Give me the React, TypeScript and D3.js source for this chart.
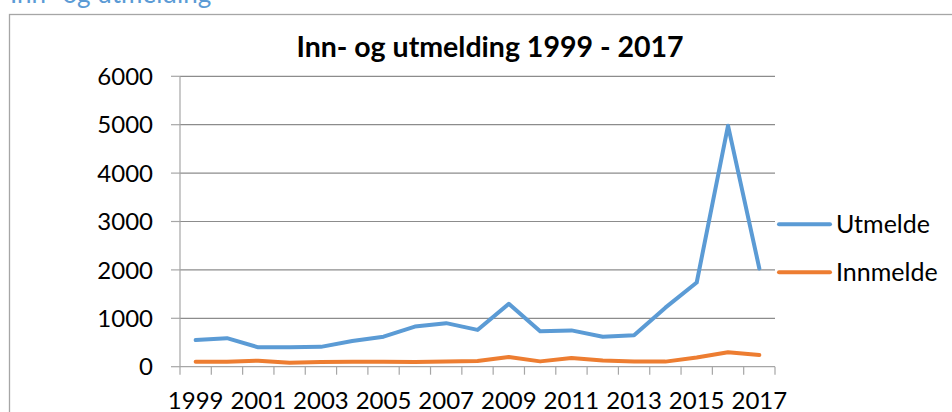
import React from "react";
import * as d3 from "d3";

const years = [1999, 2000, 2001, 2002, 2003, 2004, 2005, 2006, 2007, 2008, 2009, 2010, 2011, 2012, 2013, 2014, 2015, 2016, 2017];
const utmelde = [550, 590, 400, 400, 410, 530, 620, 830, 900, 760, 1300, 730, 750, 620, 650, 1220, 1740, 4980, 2030];
const innmelde = [100, 100, 125, 80, 95, 100, 100, 95, 105, 120, 200, 110, 180, 130, 105, 105, 190, 300, 240];
const yTicks = [0, 1000, 2000, 3000, 4000, 5000, 6000];
const seriesNames = ["Utmelde", "Innmelde"];
const seriesColors = ["#5B9BD5", "#ED7D31"];

const W = 952;
const H = 412;
const FONT = "Lato, 'Open Sans', sans-serif";

export default function App() {
  const left = 180, right = 775, top = 76.3, bottom = 366.7;
  const x = d3.scaleBand<number>().domain(years).range([left, right]).padding(0);
  const y = d3.scaleLinear().domain([0, 6000]).range([bottom, top]);
  const cx = (yr: number) => (x(yr) as number) + x.bandwidth() / 2;
  const line = d3.line<number>().x((_, i) => cx(years[i])).y((v) => y(v));
  const series = [utmelde, innmelde];
  const legendY = [224.3, 272.3];

  return (
    <svg width={W} height={H} style={{ position: "absolute", left: 0, top: 0, background: "#fff" }} fontFamily={FONT}>
      <text x={10} y={3} fill="#5B9BD5" fontSize={26}>Inn- og utmelding</text>
      <rect x={9.5} y={14.5} width={W} height={H} fill="none" stroke="#a6a6a6" strokeWidth={1.3} />
      <text x={490} y={57} textAnchor="middle" fontSize={28.5} fontWeight="bold" fill="#000">Inn- og utmelding 1999 - 2017</text>
      {yTicks.map((t) => (
        <g key={t}>
          {t > 0 && <line x1={left} x2={right} y1={y(t)} y2={y(t)} stroke="#8c8c8c" strokeWidth={1.2} />}
          <line x1={left - 9} x2={left} y1={y(t)} y2={y(t)} stroke="#a6a6a6" strokeWidth={1.2} />
          <text x={153} y={y(t)} dy="0.36em" textAnchor="end" fontSize={24} fill="#000">{t}</text>
        </g>
      ))}
      <line x1={left} x2={left} y1={top} y2={bottom} stroke="#a6a6a6" strokeWidth={1.2} />
      <line x1={left} x2={right} y1={bottom} y2={bottom} stroke="#a6a6a6" strokeWidth={1.2} />
      {years.map((yr) => (
        <line key={"t" + yr} x1={x(yr) as number} x2={x(yr) as number} y1={bottom} y2={bottom + 8} stroke="#a6a6a6" strokeWidth={1.2} />
      ))}
      <line x1={right} x2={right} y1={bottom} y2={bottom + 8} stroke="#a6a6a6" strokeWidth={1.2} />
      {years.map((yr, i) =>
        i % 2 === 0 ? (
          <text key={"l" + yr} x={cx(yr)} y={409} textAnchor="middle" fontSize={24} fill="#000">{yr}</text>
        ) : null
      )}
      {series.map((s, i) => (
        <path key={i} d={line(s) as string} fill="none" stroke={seriesColors[i]} strokeWidth={4} strokeLinejoin="round" strokeLinecap="round" />
      ))}
      {seriesNames.map((n, i) => (
        <g key={n}>
          <line x1={779} x2={830} y1={legendY[i]} y2={legendY[i]} stroke={seriesColors[i]} strokeWidth={4} strokeLinecap="round" />
          <text x={836} y={legendY[i]} dy="0.36em" fontSize={25} fill="#000">{n}</text>
        </g>
      ))}
    </svg>
  );
}
